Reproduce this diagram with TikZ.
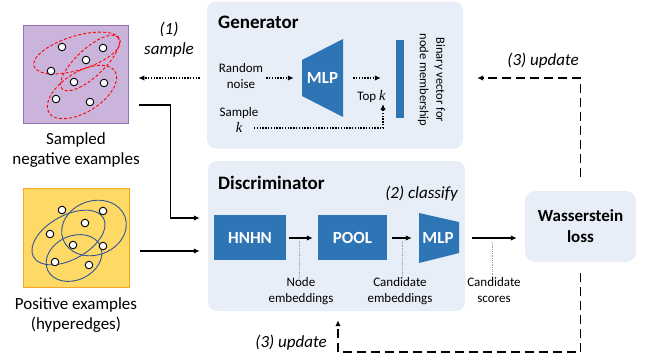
\documentclass[tikz,border=0pt]{standalone}
\usepackage{fontspec}
\setmainfont{Carlito}
\newfontfamily\kvarfont{Liberation Serif}
\usetikzlibrary{arrows.meta,calc}
\definecolor{panelfill}{HTML}{E8EEF8}
\definecolor{blockblue}{HTML}{2E75B6}
\definecolor{negfill}{HTML}{CBB4DC}
\definecolor{negline}{HTML}{9470B5}
\definecolor{posfill}{HTML}{FFD966}
\definecolor{posline}{HTML}{F5A623}
\definecolor{hedge}{HTML}{2F5597}
\definecolor{leader}{HTML}{A0A0A0}
% the variable k, set as a serif italic letter
\newcommand{\kvar}{{\kvarfont\itshape\fontsize{14.5}{16}\selectfont k}}

\begin{document}
\begin{tikzpicture}[x=1pt,y=-1pt,
  panel/.style={fill=panelfill, draw=none, rounded corners=9pt, inner sep=0pt},
  block/.style={fill=blockblue, draw=none, text=white, inner sep=0pt,
                font=\fontsize{17}{20}\selectfont\bfseries},
  blocktext/.style={text=white, inner sep=0pt, font=\fontsize{17}{20}\selectfont\bfseries},
  title/.style={font=\fontsize{19}{22}\selectfont\bfseries, inner sep=0pt},
  caption/.style={font=\fontsize{17}{20}\selectfont, align=center, inner sep=0pt},
  stepnote/.style={font=\fontsize{17}{20}\selectfont\itshape, align=center, inner sep=0pt},
  lbl/.style={font=\fontsize{13}{16}\selectfont, align=center, inner sep=0pt},
  tip/.style={-{Latex[length=6pt,width=5.5pt]}},
  dotarr/.style={tip, line width=1.4pt, dash pattern=on 1.4pt off 1.4pt},
  solidarr/.style={tip, line width=1.3pt},
  dasharr/.style={tip, line width=1.7pt, dash pattern=on 9pt off 5pt},
  leaderline/.style={leader, line width=0.6pt, dash pattern=on 0.8pt off 1pt},
  vtx/.style={fill=white, draw=black, line width=0.9pt},
  negedge/.style={red, line width=0.9pt, dash pattern=on 3pt off 2pt},
  posedge/.style={hedge, line width=0.9pt},
]
\useasboundingbox (0,0) rectangle (646,360);

% ---------- panels ----------
\node[panel, minimum width=256pt, minimum height=147pt] (gen) at (335,75) {};
\node[panel, minimum width=257pt, minimum height=150pt] (disc) at (336.5,236) {};
\node[panel, minimum width=111pt, minimum height=71pt, rounded corners=10pt,
      font=\fontsize{17}{21}\selectfont\bfseries, align=center] (loss) at (580.5,226.5)
      {Wasserstein\\loss};

% ---------- negative examples ----------
\node[fill=negfill, draw=negline, line width=0.8pt, minimum width=105pt,
      minimum height=98pt, inner sep=0pt] (neg) at (75.5,74.5) {};
\draw[negedge, rotate around={17:(77,53)}] (77,53) ellipse [x radius=45, y radius=17];
\draw[negedge, rotate around={43:(90,63)}] (90,63) ellipse [x radius=38, y radius=14];
\draw[negedge, rotate around={32:(82,92)}] (82,92) ellipse [x radius=39, y radius=20];
\foreach \p in {(62,47),(103,48),(86,60),(51,71),(74,82),(104,83),(56,99),(90,102)}
  \draw[vtx] \p circle (3.8);
\node[caption] (negcap) at (76,150) {Sampled\\negative examples};

% ---------- positive examples ----------
\node[fill=posfill, draw=posline, line width=0.8pt, minimum width=106pt,
      minimum height=99pt, inner sep=0pt] (pos) at (76,237.5) {};
\draw[posedge, rotate around={29:(68.5,237.5)}] (68.5,237.5) ellipse [x radius=40, y radius=22];
\draw[posedge, rotate around={20:(94,228)}] (94,228) ellipse [x radius=33, y radius=27];
\draw[posedge, rotate around={25:(74,258)}] (74,258) ellipse [x radius=29, y radius=22];
\foreach \p in {(62,210),(103,211),(85,223),(50,234),(73,245),(103,246),(55,262),(89,265)}
  \draw[vtx] \p circle (3.8);
\node[caption] (poscap) at (76,315.5) {Positive examples\\(hyperedges)};

% ---------- generator ----------
\node[title, anchor=west] (gentitle) at (218,22) {Generator};
\node[lbl] (noise) at (241,76) {Random\\noise};
\fill[blockblue] (302,60) -- (343,39) -- (343,117) -- (302,96) -- cycle;
\node[blocktext, minimum width=41pt, minimum height=78pt] (gmlp) at (322.5,78) {MLP};
\node[fill=blockblue, minimum width=8pt, minimum height=78pt, inner sep=0pt] (bar) at (400,79) {};
\node[lbl, font=\fontsize{12.5}{16.5}\selectfont, rotate=-90] (binlabel) at (431.5,80)
     {Binary vector for\\node membership};
\node[lbl] (topk) at (371.5,97) {Top \kvar};
\node[lbl] (samplek) at (239,120) {Sample\\\kvar};
\coordinate (kstart) at (254,128);
\coordinate (kend) at (383,104);

\draw[dotarr] ($(noise.east)+(3,2)$) -- ($(gmlp.west)+(-8,0)$);
\draw[dotarr] ($(gmlp.east)+(10,0)$) -- ($(bar.west)+(-15,-1)$);
\draw[dotarr] (kstart) -| (kend);

% ---------- discriminator ----------
\node[title, anchor=west] (disctitle) at (218,183) {Discriminator};
\node[stepnote, anchor=east] (classify) at (458,194) {(2) classify};
\node[block, minimum width=72pt, minimum height=45pt] (hnhn) at (250,237.5) {HNHN};
\node[block, minimum width=69pt, minimum height=45pt] (pool) at (352.5,237.5) {POOL};
\fill[blockblue] (419,213) -- (459,222) -- (459,253) -- (419,263) -- cycle;
\node[blocktext, minimum width=40pt, minimum height=50pt] (dmlp) at (438,238) {MLP};

\draw[solidarr] ($(hnhn.east)+(3,0.5)$) -- ($(pool.west)+(-5,0.5)$);
\draw[solidarr] ($(pool.east)+(5,0.5)$) -- ($(dmlp.west)+(-6,0)$);
\draw[solidarr] ($(dmlp.east)+(14,0)$) -- ($(loss.west |- dmlp.east)+(-8,0)$);

\node[lbl] (nodeemb) at (301,291) {Node\\embeddings};
\node[lbl] (candemb) at (400,291) {Candidate\\embeddings};
\node[lbl] (candscore) at (494,290) {Candidate\\scores};
\draw[leaderline] (299,241) -- (nodeemb.north -| 299,0);
\draw[leaderline] (402,241) -- (candemb.north -| 402,0);
\draw[leaderline] (492,242) -- (candscore.north -| 492,0);

% ---------- connections between parts ----------
\node[stepnote] (samplenote) at (169,40) {(1)\\sample};
\draw[dotarr] ($(gen.west)+(-7,3)$) -- ($(neg.east)+(10,3.5)$);
\draw[solidarr] ($(neg.east)+(11,30.5)$) -- ++(31,0) |- ($(disc.west)+(-8,-18)$);
\draw[solidarr] ($(pos.east)+(11,13.5)$) -- ($(disc.west)+(-8,15)$);

\draw[dasharr] ($(loss.south)+(0,11)$) -- ++(0,79) -| ($(disc.south)+(1.5,9)$);
\node[stepnote, anchor=east] (updlow) at (327,343) {(3) update};
\draw[dasharr] ($(loss.north)+(0,-14)$) |- ($(gen.east)+(14,3)$);
\node[stepnote, anchor=east] (updhigh) at (579,61) {(3) update};
\end{tikzpicture}
\end{document}
